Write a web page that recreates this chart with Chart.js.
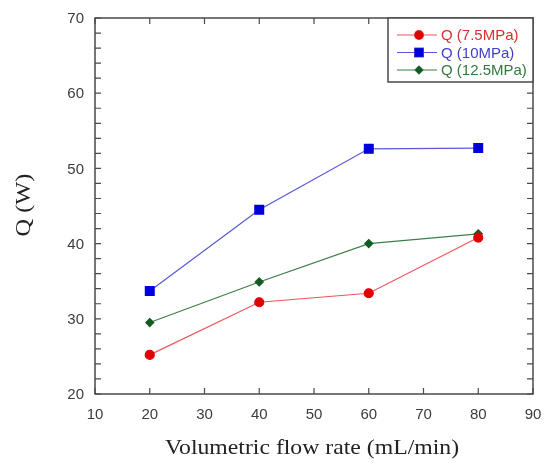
<!DOCTYPE html>
<html>
<head>
<meta charset="utf-8">
<script src="https://cdn.jsdelivr.net/npm/chart.js@4/dist/chart.umd.min.js"></script>
<style>
  html, body { margin: 0; padding: 0; background: #fff; }
  #wrap { width: 544px; height: 468px; }
</style>
</head>
<body>
<div id="wrap"><canvas id="q-chart" width="544" height="468"></canvas></div>
<script>
// values
const flowRates = [20, 40, 60, 80];
const q75 = [25.2, 32.2, 33.4, 40.8];
const q10 = [33.7, 44.5, 52.6, 52.7];
const q125 = [29.5, 34.9, 40.0, 41.3];
const seriesLabels = ['Q (7.5MPa)', 'Q (10MPa)', 'Q (12.5MPa)'];
const xTitle = 'Volumetric flow rate (mL/min)';
const yTitle = 'Q (W)';

const toPoints = (ys) => flowRates.map((x, i) => ({x: x, y: ys[i]}));

const sans = 'Arial, "Liberation Sans", sans-serif';
const serif = '"Liberation Serif", "Times New Roman", serif';
const frameColor = '#4a4a4a';
const tickColor = '#3c3c3c';

// frame, inward ticks on all sides, tick labels, axis titles and the boxed legend
const framePlugin = {
  id: 'frame',
  afterDraw(chart) {
    const ctx = chart.ctx;
    const a = chart.chartArea;
    const xs = chart.scales.x, ys = chart.scales.y;
    ctx.save();
    ctx.strokeStyle = frameColor;
    ctx.lineWidth = 1.5;
    ctx.strokeRect(a.left, a.top, a.right - a.left, a.bottom - a.top);
    ctx.lineWidth = 1.2;
    ctx.beginPath();
    xs.ticks.forEach(t => {
      const px = xs.getPixelForValue(t.value);
      ctx.moveTo(px, a.bottom); ctx.lineTo(px, a.bottom - 6);
      ctx.moveTo(px, a.top); ctx.lineTo(px, a.top + 6);
    });
    ys.ticks.forEach(t => {
      const py = ys.getPixelForValue(t.value);
      ctx.moveTo(a.left, py); ctx.lineTo(a.left + 6, py);
      ctx.moveTo(a.right, py); ctx.lineTo(a.right - 6, py);
    });
    ctx.stroke();

    // tick labels
    ctx.fillStyle = tickColor;
    ctx.font = '15px ' + sans;
    ctx.textBaseline = 'middle';
    ctx.textAlign = 'center';
    xs.ticks.forEach(t => {
      ctx.fillText(String(t.value), xs.getPixelForValue(t.value), a.bottom + 21);
    });
    ctx.textAlign = 'right';
    ys.ticks.forEach(t => {
      if (t.value % 10 === 0) ctx.fillText(String(t.value), a.left - 11, ys.getPixelForValue(t.value) + 1);
    });

    // axis titles (the original is a bit wide, so stretch it)
    ctx.fillStyle = '#222';
    ctx.textAlign = 'center';
    ctx.font = '21px ' + serif;
    ctx.save();
    ctx.translate((a.left + a.right) / 2 - 2, 448);
    ctx.scale(1.13, 1);
    ctx.fillText(xTitle, 0, 0);
    ctx.restore();
    ctx.save();
    ctx.translate(24, 205);
    ctx.rotate(-Math.PI / 2);
    ctx.scale(1.16, 1);
    ctx.fillText(yTitle, 0, 0);
    ctx.restore();

    // legend
    const lx = 388, ly = a.top, lw = a.right - lx, lh = 64;
    ctx.fillStyle = '#fff';
    ctx.fillRect(lx, ly, lw, lh);
    ctx.lineWidth = 1.5;
    ctx.strokeStyle = frameColor;
    ctx.strokeRect(lx, ly, lw, lh);
    ctx.font = '15px ' + sans;
    ctx.textAlign = 'left';
    chart.data.datasets.forEach((ds, i) => {
      const y = ly + 17 + i * 17.5;
      ctx.strokeStyle = ds.borderColor;
      ctx.lineWidth = 1.2;
      ctx.beginPath();
      ctx.moveTo(lx + 9, y); ctx.lineTo(lx + 49, y);
      ctx.stroke();
      Chart.helpers.drawPoint(ctx, {
        pointStyle: ds.pointStyle,
        radius: ds.pointRadius,
        rotation: 0,
        borderWidth: 1
      }, lx + 31, y);
      ctx.fillStyle = ds.pointBackgroundColor;
      ctx.fill();
      ctx.fillStyle = ds.labelColor;
      ctx.fillText(ds.label, lx + 53, y + 1);
    });
    ctx.restore();
  }
};

const config = {
  type: 'scatter',
  data: {
    datasets: [
      {
        label: seriesLabels[0],
        data: toPoints(q75),
        showLine: true,
        borderColor: '#e8585c',
        borderWidth: 1.2,
        pointStyle: 'circle',
        pointRadius: 4.5,
        pointBackgroundColor: '#e00000',
        pointBorderColor: '#e00000',
        labelColor: '#d63030'
      },
      {
        label: seriesLabels[1],
        data: toPoints(q10),
        showLine: true,
        borderColor: '#5858d8',
        borderWidth: 1.2,
        pointStyle: 'rect',
        pointRadius: 6.2,
        pointBackgroundColor: '#0000dd',
        pointBorderColor: '#0000dd',
        labelColor: '#4040c8'
      },
      {
        label: seriesLabels[2],
        data: toPoints(q125),
        showLine: true,
        borderColor: '#3f7f46',
        borderWidth: 1.2,
        pointStyle: 'rectRot',
        pointRadius: 4,
        pointBackgroundColor: '#145a23',
        pointBorderColor: '#145a23',
        labelColor: '#2f7a3a'
      }
    ]
  },
  plugins: [framePlugin],
  options: {
    responsive: false,
    animation: false,
    layout: {padding: {top: 18, right: 11, left: 0, bottom: 0}},
    plugins: {
      legend: {display: false},
      tooltip: {enabled: false}
    },
    scales: {
      x: {
        type: 'linear',
        min: 10,
        max: 90,
        ticks: {stepSize: 10, display: false},
        grid: {display: false, drawTicks: false},
        border: {display: false},
        afterFit(scale) { scale.height = 74; }
      },
      y: {
        min: 20,
        max: 70,
        ticks: {stepSize: 2, display: false, autoSkip: false},
        grid: {display: false, drawTicks: false},
        border: {display: false},
        afterFit(scale) { scale.width = 95; }
      }
    }
  }
};

const ctx = document.getElementById('q-chart').getContext('2d');
const qChart = new Chart(ctx, config);
window.qChart = qChart;
</script>
</body>
</html>
